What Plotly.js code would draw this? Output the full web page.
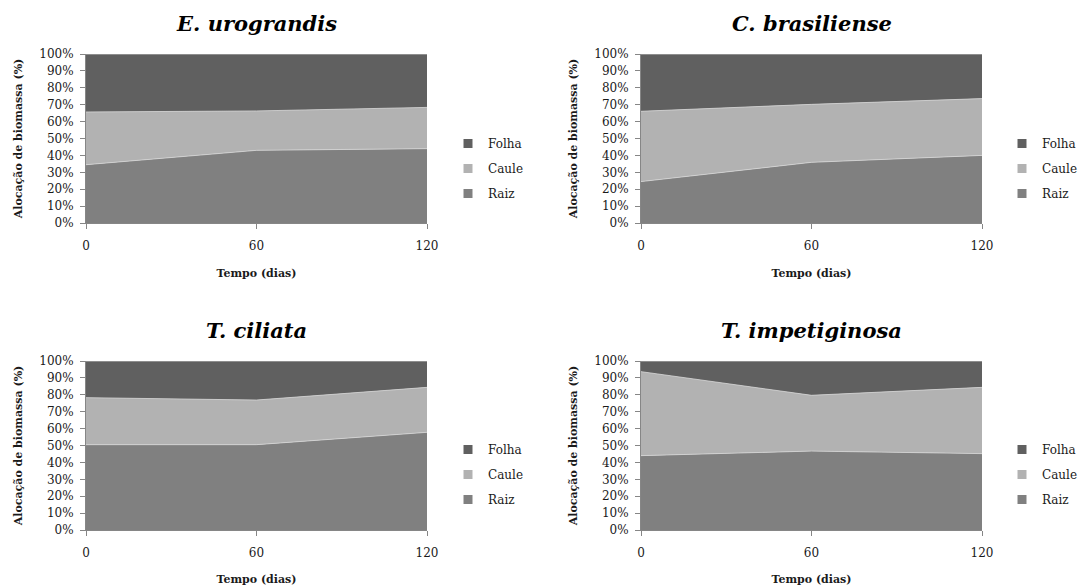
<!DOCTYPE html>
<html>
<head>
<meta charset="utf-8">
<script src="https://cdn.plot.ly/plotly-3.0.1.min.js"></script>
<style>html,body{margin:0;padding:0;background:#fff;}#chart{width:1085px;height:586px;}</style>
</head>
<body>
<div id="chart"></div>
<script>
// ---- data ----
var days = [0, 60, 120];
var xTickVals = [0, 60, 120];
var seriesNames = ['Raiz', 'Caule', 'Folha'];
var panelTitles = ['E. urograndis', 'C. brasiliense', 'T. ciliata', 'T. impetiginosa'];

var euRaiz  = [34.5, 43.0, 44.0];
var euCaule = [31.2, 23.3, 24.4];
var euFolha = [34.3, 33.7, 31.6];

var cbRaiz  = [24.5, 35.9, 40.0];
var cbCaule = [41.6, 34.3, 33.6];
var cbFolha = [33.9, 29.8, 26.4];

var tcRaiz  = [50.5, 50.5, 57.8];
var tcCaule = [27.8, 26.4, 26.6];
var tcFolha = [21.7, 23.1, 15.6];

var tiRaiz  = [44.0, 46.7, 45.2];
var tiCaule = [49.7, 33.0, 39.2];
var tiFolha = [6.3, 20.3, 15.6];

var panels = [
  [euRaiz, euCaule, euFolha],
  [cbRaiz, cbCaule, cbFolha],
  [tcRaiz, tcCaule, tcFolha],
  [tiRaiz, tiCaule, tiFolha]
];

// ---- styling ----
var colors = {Raiz: '#808080', Caule: '#b2b2b2', Folha: '#606060'};
var W = 1085, H = 586;
var serif = 'DejaVu Serif, serif';
var boxes = [ // pixel boxes of plot areas: [x0, x1, yTop, yBottom]
  [86, 427, 54, 223],
  [641, 982, 54, 223],
  [86, 427, 361, 530],
  [641, 982, 361, 530]
];
var legendPos = [[448, 129], [1002, 129], [448, 435], [1002, 435]];

var traces = [];
var layout = {
  width: W, height: H,
  margin: {l: 0, r: 0, t: 0, b: 0},
  paper_bgcolor: '#ffffff', plot_bgcolor: '#ffffff',
  font: {family: serif, color: '#1a1a1a', size: 12},
  showlegend: true,
  annotations: []
};

panels.forEach(function (p, i) {
  var n = i + 1;
  var xa = 'x' + (n === 1 ? '' : n), ya = 'y' + (n === 1 ? '' : n);
  var legId = 'legend' + (n === 1 ? '' : n);
  var b = boxes[i];
  seriesNames.forEach(function (name, k) {
    traces.push({
      type: 'scatter', mode: 'lines', x: days, y: p[k],
      stackgroup: 'g' + n, name: name,
      line: {width: 0.8, color: '#d6d6d6'},
      fillcolor: colors[name],
      xaxis: xa, yaxis: ya, showlegend: false, hoverinfo: 'skip'
    });
  });
  // legend entries (Folha, Caule, Raiz top to bottom)
  ['Folha', 'Caule', 'Raiz'].forEach(function (name) {
    traces.push({
      type: 'scatter', mode: 'markers', x: [null], y: [null], name: name,
      marker: {symbol: 'square', size: 9, color: colors[name]},
      xaxis: xa, yaxis: ya, legend: legId, legendgroup: name + n, showlegend: true
    });
  });
  layout[legId] = {
    x: legendPos[i][0] / W, y: 1 - legendPos[i][1] / H, xanchor: 'left', yanchor: 'top',
    font: {family: serif, size: 12, color: '#1a1a1a'},
    bgcolor: 'rgba(0,0,0,0)', itemwidth: 30, tracegroupgap: 6, traceorder: 'grouped'
  };
  layout['xaxis' + (n === 1 ? '' : n)] = {
    domain: [b[0] / W, b[1] / W], anchor: ya,
    range: [0, 120], tickvals: xTickVals, ticktext: xTickVals.map(String),
    showgrid: false, zeroline: false, showline: true, linecolor: '#868686', linewidth: 1,
    ticks: 'outside', ticklen: 5, tickcolor: '#868686', ticklabelstandoff: 7,
    tickfont: {family: serif, size: 12, color: '#1a1a1a'},
    title: {text: '<b>Tempo (dias)</b>', font: {family: serif, size: 11, color: '#1a1a1a'}, standoff: 16}
  };
  layout['yaxis' + (n === 1 ? '' : n)] = {
    domain: [1 - b[3] / H, 1 - b[2] / H], anchor: xa,
    range: [0, 100], dtick: 10, ticksuffix: '%',
    showgrid: false, zeroline: false, showline: true, linecolor: '#868686', linewidth: 1,
    ticks: 'outside', ticklen: 5, tickcolor: '#868686', ticklabelstandoff: 4,
    tickfont: {family: serif, size: 12, color: '#1a1a1a'},
    title: {text: '<b>Alocação de biomassa (%)</b>', font: {family: serif, size: 11, color: '#1a1a1a'}, standoff: 14}
  };
  layout.annotations.push({
    text: '<b><i>' + panelTitles[i] + '</i></b>',
    xref: 'paper', yref: 'paper', x: (b[0] + b[1]) / 2 / W, y: 1 - (b[2] - 31) / H,
    xanchor: 'center', yanchor: 'middle', showarrow: false,
    font: {family: serif, size: 21, color: '#000000'}
  });
});

Plotly.newPlot('chart', traces, layout, {displayModeBar: false, staticPlot: true});
</script>
</body>
</html>
